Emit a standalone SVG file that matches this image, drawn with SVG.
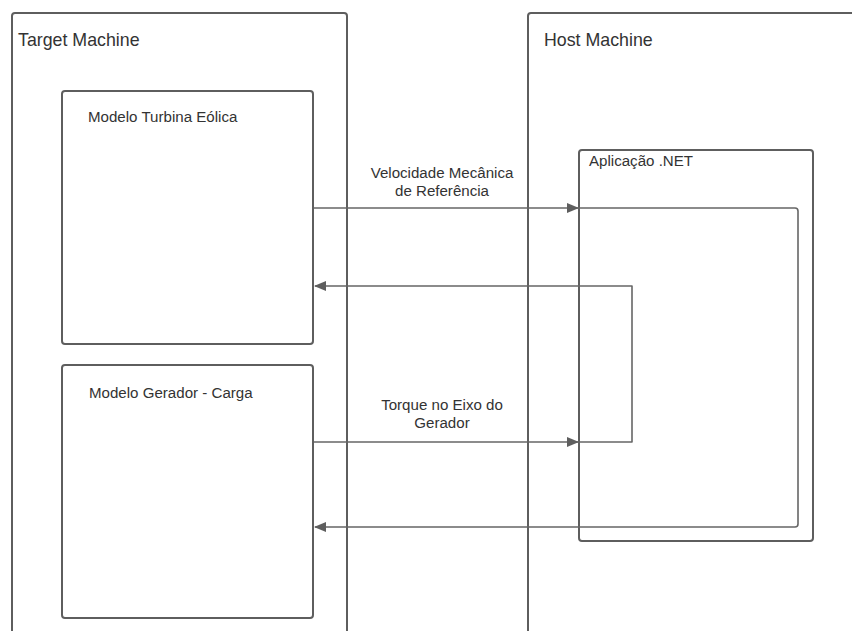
<svg xmlns="http://www.w3.org/2000/svg" width="852" height="631" viewBox="0 0 852 631">
<defs>
<style>
.box{fill:#fff;stroke:#5e5e5e;stroke-width:2}
.t{font-family:"Liberation Sans",Arial,sans-serif;fill:#333}
.big{font-size:17.8px}
.sm{font-size:15.1px}
.lbl{font-size:15.1px;text-anchor:middle}
.c{fill:none;stroke:#666;stroke-width:1.6;stroke-linejoin:round}
</style>
<marker id="ah" markerWidth="12" markerHeight="10" refX="11" refY="5" orient="auto" markerUnits="userSpaceOnUse">
<path d="M0,0 L12,5 L0,10 Z" fill="#5e5e5e"/>
</marker>
</defs>
<rect width="852" height="631" fill="#fff"/>
<g id="target">
<rect class="box" x="12" y="13" width="335" height="640" rx="3"/>
<text class="t big" x="18" y="46">Target Machine</text>
</g>
<g id="host">
<rect class="box" x="528" y="13" width="340" height="640" rx="3"/>
<text class="t big" x="544" y="46">Host Machine</text>
</g>
<g id="turbina">
<rect class="box" x="62" y="91" width="251" height="253" rx="3"/>
<text class="t sm" x="88" y="122">Modelo Turbina Eólica</text>
</g>
<g id="gerador">
<rect class="box" x="62" y="365" width="251" height="253" rx="3"/>
<text class="t sm" x="89" y="398">Modelo Gerador - Carga</text>
</g>
<g id="app">
<rect class="box" x="579" y="150" width="234" height="391" rx="3"/>
<text class="t sm" x="589" y="166">Aplicação .NET</text>
</g>
<g id="connectors">
<line class="c" x1="314" y1="208" x2="578" y2="208" marker-end="url(#ah)"/>
<path class="c" d="M578,208 H795 Q798,208 798,211 V524 Q798,527 795,527 H315" marker-end="url(#ah)"/>
<line class="c" x1="314" y1="442" x2="578" y2="442" marker-end="url(#ah)"/>
<path class="c" d="M578,442 H632 V286 H315" marker-end="url(#ah)"/>
<text class="t lbl" x="442" y="178">Velocidade Mecânica</text>
<text class="t lbl" x="442" y="196">de Referência</text>
<text class="t lbl" x="442" y="410">Torque no Eixo do</text>
<text class="t lbl" x="442" y="428">Gerador</text>
</g>
</svg>
